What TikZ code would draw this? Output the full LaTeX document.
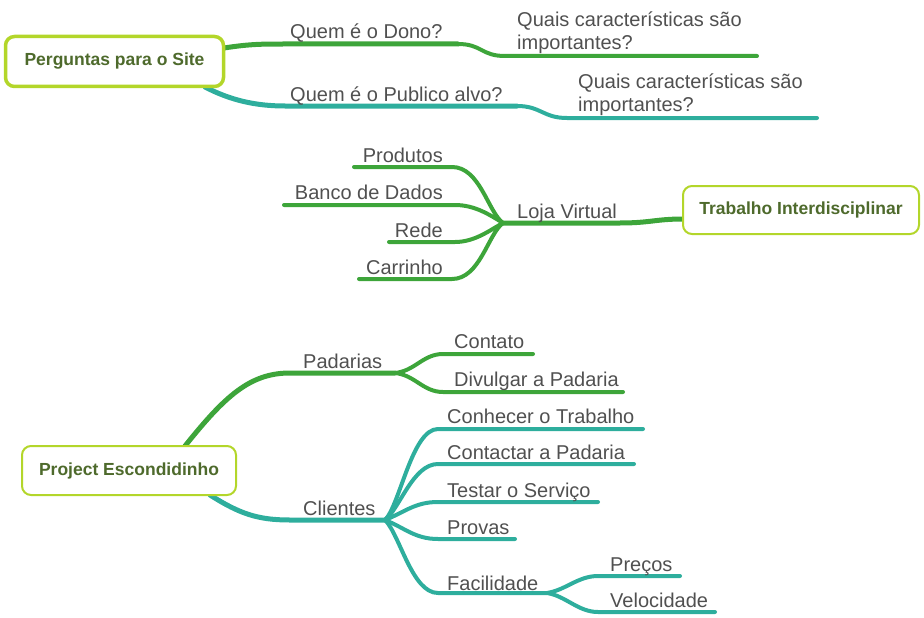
\documentclass[tikz,border=0pt]{standalone}
\usepackage{fontspec}
\setmainfont{Liberation Sans}
\usepackage{xcolor}
\usepackage{tikz}
\usetikzlibrary{positioning}

\definecolor{mapgreen}{HTML}{3DA53A}
\definecolor{mapteal}{HTML}{2EAE9D}
\definecolor{boxlime}{HTML}{B3D62A}
\definecolor{boxtext}{HTML}{4E6A2C}
\definecolor{leafgray}{HTML}{505050}

\tikzset{
  topic/.style={draw=boxlime, line width=2pt, rounded corners=9pt, fill=white,
    text=boxtext, font=\fontsize{17.5}{20}\selectfont\bfseries, inner sep=0pt},
  leaf/.style={text=leafgray, font=\fontsize{20}{23}\selectfont, inner sep=0pt},
  gbranch/.style={mapgreen, line width=4pt, line cap=round},
  tbranch/.style={mapteal, line width=4pt, line cap=round},
  trunk/.style={line width=5pt}
}

\begin{document}
\begin{tikzpicture}[x=1pt,y=-1pt]
    \useasboundingbox (0,0) rectangle (924,618);

    % Perguntas para o Site
    \coordinate (site-g) at (224,48);
    \coordinate (site-t) at (205,87);
    \coordinate (dono-a) at (285,44);
    \coordinate (dono-b) at (458,44);
    \coordinate (dono-c) at (505,56);
    \coordinate (dono-d) at (757,56);
    \coordinate (alvo-a) at (285,106);
    \coordinate (alvo-b) at (517,106);
    \coordinate (alvo-c) at (567,118);
    \coordinate (alvo-d) at (817,118);

    \draw[gbranch,trunk] (site-g) .. controls (250,44) and (262,44) .. (dono-a) -- (dono-b);
    \draw[gbranch] (dono-b) .. controls (482,44) and (481,56) .. (dono-c) -- (dono-d);
    \draw[tbranch,trunk] (site-t) .. controls (230,100) and (255,106) .. (alvo-a) -- (alvo-b);
    \draw[tbranch] (alvo-b) .. controls (541,106) and (543,118) .. (alvo-c) -- (alvo-d);

    \node[topic, line width=3.5pt, minimum width=218pt, minimum height=50pt] (site) at (114.5,61.5) {Perguntas para o Site};
    \node[leaf, anchor=base west] (dono) at (290,39) {Quem é o Dono?};
    \node[leaf, anchor=south west, align=left] (dono-q) at (517,54) {Quais características são\\importantes?};
    \node[leaf, anchor=base west] (alvo) at (290,101) {Quem é o Publico alvo?};
    \node[leaf, anchor=south west, align=left] (alvo-q) at (578,116) {Quais características são\\importantes?};

    % Trabalho Interdisciplinar
    \coordinate (loja) at (503,223);
    \coordinate (loja-b) at (620,223);
    \coordinate (trab-in) at (683,219);
    \coordinate (prod-a) at (354,167);
    \coordinate (prod-b) at (452,167);
    \coordinate (banco-a) at (284,205);
    \coordinate (banco-b) at (455,205);
    \coordinate (rede-a) at (389,242);
    \coordinate (rede-b) at (455,242);
    \coordinate (carr-a) at (359,279);
    \coordinate (carr-b) at (452,279);

    \draw[gbranch,trunk] (loja) -- (loja-b) .. controls (650,223) and (656,219) .. (trab-in);
    \draw[gbranch] (prod-a) -- (prod-b) .. controls (480,167) and (488,212) .. (loja);
    \draw[gbranch] (banco-a) -- (banco-b) .. controls (475,205) and (490,215) .. (loja);
    \draw[gbranch] (rede-a) -- (rede-b) .. controls (475,242) and (490,230) .. (loja);
    \draw[gbranch] (carr-a) -- (carr-b) .. controls (480,279) and (488,234) .. (loja);

    \node[topic, minimum width=236pt, minimum height=48pt] (trab) at (801,210) {Trabalho Interdisciplinar};
    \node[leaf, anchor=base west] (loja-t) at (517,218) {Loja Virtual};
    \node[leaf, anchor=base east] (prod) at (443,162) {Produtos};
    \node[leaf, anchor=base east] (banco) at (443,199) {Banco de Dados};
    \node[leaf, anchor=base east] (rede) at (443,237) {Rede};
    \node[leaf, anchor=base east] (carr) at (443,274) {Carrinho};

    % Project Escondidinho
    \coordinate (proj-g) at (185,446);
    \coordinate (proj-t) at (210,495);
    \coordinate (pad-a) at (290,373);
    \coordinate (pad) at (395,373);
    \coordinate (cont-a) at (443,354);
    \coordinate (cont-b) at (533,354);
    \coordinate (div-a) at (443,392);
    \coordinate (div-b) at (623,392);
    \coordinate (cli-a) at (290,520);
    \coordinate (cli) at (385,520);
    \coordinate (con-a) at (438,429);
    \coordinate (con-b) at (643,429);
    \coordinate (ctt-a) at (438,464);
    \coordinate (ctt-b) at (634,464);
    \coordinate (tes-a) at (438,502);
    \coordinate (tes-b) at (598,502);
    \coordinate (prv-a) at (438,539);
    \coordinate (prv-b) at (515,539);
    \coordinate (fac-a) at (438,593);
    \coordinate (fac) at (547,593);
    \coordinate (pre-a) at (598,576);
    \coordinate (pre-b) at (680,576);
    \coordinate (vel-a) at (598,612);
    \coordinate (vel-b) at (715,612);

    \draw[gbranch,trunk] (proj-g) .. controls (225,396) and (250,373) .. (pad-a) -- (pad);
    \draw[gbranch] (pad) .. controls (415,371) and (423,354) .. (cont-a) -- (cont-b);
    \draw[gbranch] (pad) .. controls (415,375) and (423,392) .. (div-a) -- (div-b);
    \draw[tbranch,trunk] (proj-t) .. controls (240,514) and (258,520) .. (cli-a) -- (cli);
    \draw[tbranch] (cli) .. controls (400,505) and (412,429) .. (con-a) -- (con-b);
    \draw[tbranch] (cli) .. controls (400,508) and (413,464) .. (ctt-a) -- (ctt-b);
    \draw[tbranch] (cli) .. controls (405,512) and (415,502) .. (tes-a) -- (tes-b);
    \draw[tbranch] (cli) .. controls (405,528) and (415,539) .. (prv-a) -- (prv-b);
    \draw[tbranch] (cli) .. controls (400,535) and (412,593) .. (fac-a) -- (fac);
    \draw[tbranch] (fac) .. controls (566,590) and (578,576) .. (pre-a) -- (pre-b);
    \draw[tbranch] (fac) .. controls (566,596) and (578,612) .. (vel-a) -- (vel-b);

    \node[topic, minimum width=214pt, minimum height=49pt] (proj) at (129,470.5) {Project Escondidinho};
    \node[leaf, anchor=base west] (pad-t) at (303,368) {Padarias};
    \node[leaf, anchor=base west] (cont) at (454,348) {Contato};
    \node[leaf, anchor=base west] (div) at (454,386) {Divulgar a Padaria};
    \node[leaf, anchor=base west] (cli-t) at (303,515) {Clientes};
    \node[leaf, anchor=base west] (con) at (447,423) {Conhecer o Trabalho};
    \node[leaf, anchor=base west] (ctt) at (447,459) {Contactar a Padaria};
    \node[leaf, anchor=base west] (tes) at (447,497) {Testar o Serviço};
    \node[leaf, anchor=base west] (prv) at (447,534) {Provas};
    \node[leaf, anchor=base west] (fac-t) at (447,590) {Facilidade};
    \node[leaf, anchor=base west] (pre) at (610,571) {Preços};
    \node[leaf, anchor=base west] (vel) at (610,607) {Velocidade};
\end{tikzpicture}
\end{document}
